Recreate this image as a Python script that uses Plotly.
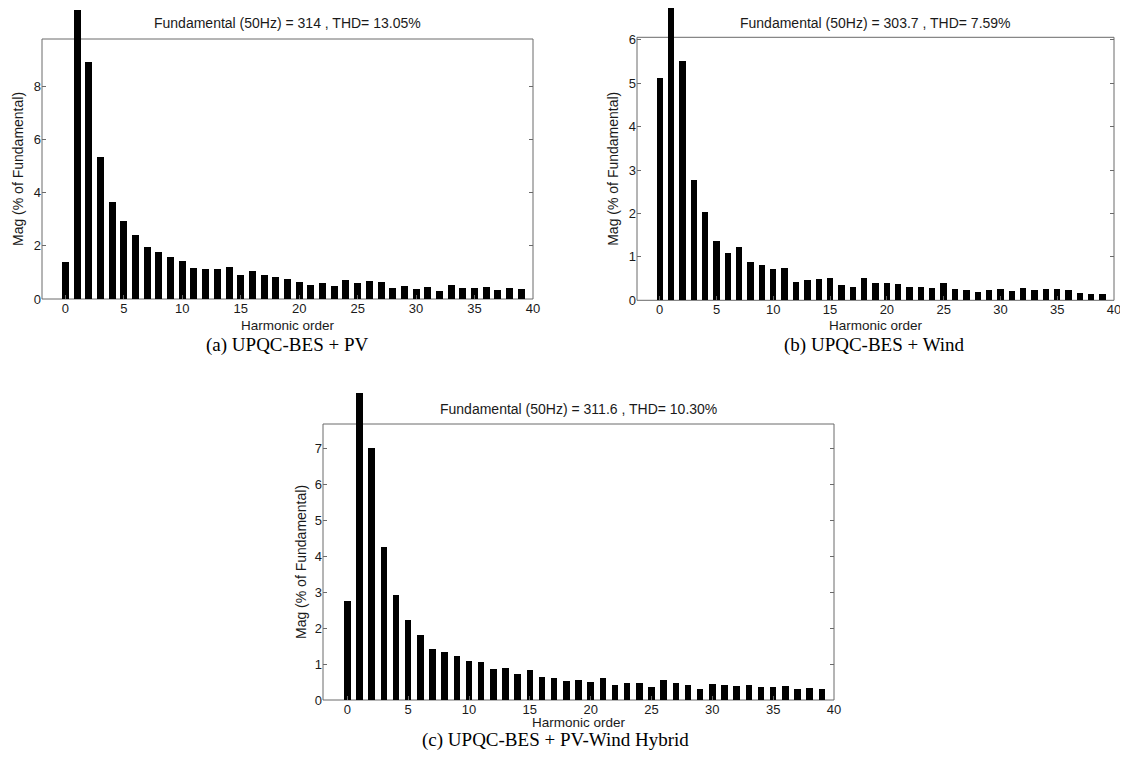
import plotly.graph_objects as go

# ---------------- data ----------------
HARMONICS = list(range(40))

MAG_PV = [1.40, 10.86, 8.91, 5.33, 3.63, 2.93, 2.41, 1.94, 1.78, 1.57,
          1.44, 1.18, 1.12, 1.14, 1.19, 0.90, 1.07, 0.90, 0.84, 0.74,
          0.65, 0.51, 0.61, 0.49, 0.70, 0.59, 0.69, 0.64, 0.43, 0.49,
          0.36, 0.46, 0.31, 0.54, 0.42, 0.43, 0.44, 0.34, 0.41, 0.39]

MAG_WIND = [5.12, 6.75, 5.51, 2.77, 2.04, 1.36, 1.10, 1.23, 0.89, 0.82,
            0.72, 0.74, 0.43, 0.47, 0.49, 0.51, 0.36, 0.31, 0.51, 0.41,
            0.41, 0.37, 0.31, 0.30, 0.28, 0.39, 0.25, 0.24, 0.18, 0.24,
            0.25, 0.22, 0.28, 0.23, 0.25, 0.27, 0.24, 0.16, 0.15, 0.15]

MAG_HYBRID = [2.75, 8.53, 7.00, 4.25, 2.91, 2.22, 1.81, 1.42, 1.34, 1.22,
              1.08, 1.07, 0.86, 0.88, 0.72, 0.83, 0.64, 0.62, 0.53, 0.55,
              0.51, 0.62, 0.41, 0.46, 0.48, 0.37, 0.55, 0.46, 0.41, 0.32,
              0.45, 0.43, 0.40, 0.43, 0.37, 0.35, 0.39, 0.32, 0.33, 0.30]

X_TICKS = [0, 5, 10, 15, 20, 25, 30, 35, 40]
Y_TICKS_PV = [0, 2, 4, 6, 8]
Y_TICKS_WIND = [0, 1, 2, 3, 4, 5, 6]
Y_TICKS_HYBRID = [0, 1, 2, 3, 4, 5, 6, 7]

TITLES = ["Fundamental (50Hz) = 314 , THD= 13.05%",
          "Fundamental (50Hz) = 303.7 , THD= 7.59%",
          "Fundamental (50Hz) = 311.6 , THD= 10.30%"]
CAPTIONS = ["(a) UPQC-BES + PV",
            "(b) UPQC-BES + Wind",
            "(c) UPQC-BES + PV-Wind Hybrid"]
X_LABEL = "Harmonic order"
Y_LABEL = "Mag (% of Fundamental)"

# ---------------- layout geometry (page pixels) ----------------
PAGE_W, PAGE_H = 1128, 765
OFF = 8                      # default body margin of the html page
W, H = PAGE_W - OFF, PAGE_H - 2 * OFF
X_MIN, X_MAX = -2, 40

PANELS = [
    dict(left=42, right=533, zero=299, ftop=39, ppu=26.6, dtop=8, bw=0.6,
         ticks=Y_TICKS_PV, data=MAG_PV,
         title_y=23, xlab_y=325, ylab_x=18, cap_x=287, cap_y=345),
    dict(left=637, right=1114, zero=300.3, ftop=37.3, ppu=43.4, dtop=8, bw=0.56,
         ticks=Y_TICKS_WIND, data=MAG_WIND,
         title_y=23, xlab_y=325, ylab_x=613, cap_x=874, cap_y=345),
    dict(left=323, right=834, zero=700, ftop=424, ppu=35.95, dtop=386, bw=0.53,
         ticks=Y_TICKS_HYBRID, data=MAG_HYBRID,
         title_y=409, xlab_y=722, ylab_x=301, cap_x=555, cap_y=740),
]


def fx(p):
    return min(max((p - OFF) / W, 0.0), 1.0)


def fy(p):
    return min(max(1 - (p - OFF) / H, 0.0), 1.0)


SANS = "Liberation Sans, Arial, sans-serif"
SERIF = "Liberation Serif, Times New Roman, serif"
TXT = "#1a1a1a"
FRAME = "#6a6a6a"

fig = go.Figure()
shapes = []
annotations = []
layout_axes = {}

for i, p in enumerate(PANELS):
    n = i + 1
    xa = "x" if n == 1 else f"x{n}"
    ya = "y" if n == 1 else f"y{n}"
    xkey = "xaxis" if n == 1 else f"xaxis{n}"
    ykey = "yaxis" if n == 1 else f"yaxis{n}"

    fig.add_trace(go.Bar(
        x=HARMONICS, y=p["data"], width=p["bw"],
        marker=dict(color="black", line=dict(width=0)),
        xaxis=xa, yaxis=ya, showlegend=False,
        hovertemplate="h%{x}: %{y:.2f}%<extra></extra>",
    ))

    y_ext = (p["zero"] - p["dtop"]) / p["ppu"]

    layout_axes[xkey] = dict(
        domain=[fx(p["left"]), fx(p["right"])], anchor=ya,
        range=[X_MIN, X_MAX], tickvals=X_TICKS, ticks="inside", ticklen=4,
        tickcolor=FRAME, showline=False, showgrid=False, zeroline=False,
        automargin=False, ticklabeloverflow="allow",
        tickfont=dict(family=SANS, size=13, color=TXT), fixedrange=True,
    )
    layout_axes[ykey] = dict(
        domain=[fy(p["zero"]), fy(p["dtop"])], anchor=xa,
        range=[0, y_ext], tickvals=p["ticks"], ticks="inside", ticklen=4,
        tickcolor=FRAME, showline=False, showgrid=False, zeroline=False,
        mirror="ticks", automargin=False,
        tickfont=dict(family=SANS, size=13, color=TXT), fixedrange=True,
    )
    tkey = f"xaxis{n + 3}"
    layout_axes[tkey] = dict(
        overlaying=xa, anchor="free", position=fy(p["ftop"]), side="top",
        range=[X_MIN, X_MAX], tickvals=X_TICKS, ticks="inside", ticklen=4,
        tickcolor=FRAME, showticklabels=False, showline=False,
        showgrid=False, zeroline=False, fixedrange=True, automargin=False,
    )

    shapes.append(dict(
        type="rect", xref="paper", yref="paper", layer="below",
        x0=fx(p["left"]), x1=fx(p["right"]),
        y0=fy(p["zero"]), y1=fy(p["ftop"]),
        line=dict(color=FRAME, width=1), fillcolor="rgba(0,0,0,0)",
    ))

    cx = fx((p["left"] + p["right"]) / 2)
    annotations += [
        dict(text=TITLES[i], x=cx, y=fy(p["title_y"]), xref="paper", yref="paper",
             showarrow=False, xanchor="center", yanchor="middle",
             font=dict(family=SANS, size=14, color=TXT)),
        dict(text=X_LABEL, x=cx, y=fy(p["xlab_y"]), xref="paper", yref="paper",
             showarrow=False, xanchor="center", yanchor="middle",
             font=dict(family=SANS, size=13.5, color=TXT)),
        dict(text=Y_LABEL, x=fx(p["ylab_x"]), y=fy((p["zero"] + p["ftop"]) / 2),
             xref="paper", yref="paper", textangle=-90,
             showarrow=False, xanchor="center", yanchor="middle",
             font=dict(family=SANS, size=14, color=TXT)),
        dict(text=CAPTIONS[i], x=fx(p["cap_x"]), y=fy(p["cap_y"]),
             xref="paper", yref="paper",
             showarrow=False, xanchor="center", yanchor="middle",
             font=dict(family=SERIF, size=19, color="black")),
    ]

fig.update_layout(
    width=W, height=H,
    margin=dict(l=0, r=0, t=0, b=0, pad=0, autoexpand=False),
    paper_bgcolor="white", plot_bgcolor="white",
    bargap=0, showlegend=False,
    shapes=shapes, annotations=annotations,
    **layout_axes,
)

fig.write_html("out.html")
